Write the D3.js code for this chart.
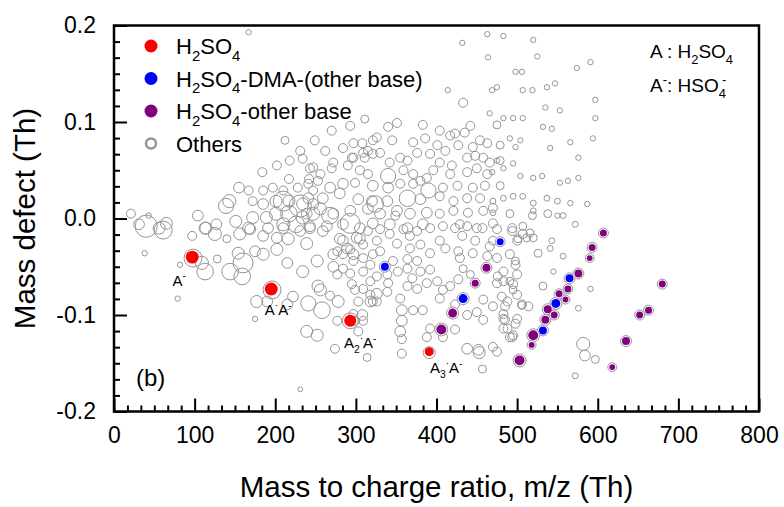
<!DOCTYPE html>
<html>
<head>
<meta charset="utf-8">
<script src="https://cdn.jsdelivr.net/npm/d3@7"></script>
<style>
  body { margin: 0; background: #fff; }
  text { font-family: Arial, "Liberation Sans", sans-serif; fill: #000; }
</style>
</head>
<body>
<svg id="chart" width="784" height="507"></svg>
<script>
// ---- data (m/z in Th, mass defect in Th, signal as relative intensity) ----
const xTicks = [0, 100, 200, 300, 400, 500, 600, 700, 800];
const yTicks = [-0.2, -0.1, 0.0, 0.1, 0.2];

// H2SO4 clusters: A- , A·A- , A2·A- , A3·A-
const h2so4Peaks = [[97, -0.040, 29], [195, -0.073, 29], [293, -0.106, 25], [391, -0.138, 14]];
const h2so4Labels = [
  [['A', ''], ['-', 'sup']],
  [['A', ''], ['·', 'sup'], ['A', ''], ['-', 'sup']],
  [['A', ''], ['2', 'sub'], ['·', 'sup'], ['A', ''], ['-', 'sup']],
  [['A', ''], ['3', 'sub'], ['·', 'sup'], ['A', ''], ['-', 'sup']]
];

// H2SO4-DMA-(other base)
const dmaPeaks = [[336, -0.050, 11], [479, -0.024, 8.5], [433, -0.083, 14], [565, -0.062, 11],
  [548, -0.088, 14], [532, -0.116, 11]];

// H2SO4-other base
const basePeaks = [[462, -0.051, 11], [448, -0.067, 8.5], [420, -0.098, 14], [406, -0.115, 17],
  [503, -0.147, 17], [607, -0.015, 8.5], [593, -0.030, 8.5], [590, -0.041, 6], [576, -0.057, 11],
  [563, -0.073, 8.5], [552, -0.078, 8.5], [560, -0.084, 6], [538, -0.094, 11], [546, -0.100, 8.5],
  [535, -0.105, 11], [520, -0.121, 17], [518, -0.131, 6], [680, -0.068, 8.5], [663, -0.095, 8.5],
  [652, -0.100, 8.5], [635, -0.127, 11], [618, -0.154, 6]];

// everything else
const othersPeaks = [
  // sparse upper right
  [483,0.189,5],[520,0.185,5],[498,0.152,5],[506,0.152,5],[525,0.168,5],[574,0.156,5],[591,0.162,5],
  [475,0.136,5],[519,0.133,5],[537,0.136,5],[547,0.140,5],[535,0.115,5],[553,0.112,5],[597,0.123,5],
  [466,0.109,5],[483,0.104,5],[495,0.104,5],[507,0.104,5],[532,0.095,5],[543,0.093,5],[597,0.104,5],
  [491,0.083,5],[504,0.081,5],[498,0.074,5],[541,0.073,5],[566,0.079,5],[594,0.083,5],[475,0.060,5],
  [495,0.057,5],[576,0.063,5],[469,0.048,5],[483,0.052,5],[504,0.044,5],[520,0.042,5],[531,0.044,5],
  [553,0.037,5],[563,0.039,5],[576,0.042,5],[470,0.018,6],[483,0.021,6],[495,0.023,6],[507,0.023,6],
  [520,0.016,6],[537,0.021,6],[550,0.018,6],[566,0.016,5],[587,0.015,5],[470,0.006,6],[520,0.008,6],
  [550,0.003,5],[432,0.182,5],[463,0.191,5],[464,0.167,5],[469,0.133,5],[507,0.133,5],[414,0.133,5],
  [167,0.193,5],
  // right of the cloud, below zero
  [491,0.005,11],[519,0.003,11],[538,0.005,11],[557,0.003,6],[572,-0.006,6],[475,-0.011,14],[494,-0.010,14],
  [507,-0.008,11],[516,-0.015,11],[501,-0.021,11],[512,-0.020,11],[520,-0.020,11],[543,-0.023,6],[470,-0.023,14],
  [475,-0.041,14],[498,-0.044,11],[526,-0.036,11],[557,-0.039,6],[541,-0.031,6],[545,-0.055,5],[476,-0.060,14],
  [475,-0.067,14],[491,-0.065,11],[495,-0.074,11],[532,-0.070,11],[591,-0.073,5],[481,-0.081,14],[506,-0.089,14],
  [514,-0.091,14],[470,-0.091,14],[483,-0.099,14],[485,-0.105,14],[576,-0.093,6],[483,-0.114,14],[495,-0.121,14],
  [470,-0.133,14],[582,-0.130,30],[584,-0.142,20],[597,-0.146,11],[572,-0.163,6],[485,-0.091,14],[506,-0.090,11],
  [458,-0.105,14],[498,-0.109,14],[491,-0.123,14],[453,-0.139,25],[457,-0.156,11],
  // middle, below zero
  [277,-0.106,14],[308,-0.100,20],[299,-0.106,14],[274,-0.135,14],[321,-0.086,14],[326,-0.078,20],[355,-0.083,14],
  [357,-0.095,20],[371,-0.095,14],[383,-0.095,14],[357,-0.106,20],[355,-0.117,20],[357,-0.125,14],[357,-0.140,14],
  [392,-0.114,14],[388,-0.123,14],[408,-0.123,14],[423,-0.115,14],[438,-0.135,20],[452,-0.136,20],[475,-0.138,14],
  [488,-0.114,14],[494,-0.123,14],[500,-0.104,14],[483,-0.104,14],[488,-0.086,14],[500,-0.079,14],[495,-0.068,14],
  [483,-0.065,14],[458,-0.084,14],[450,-0.097,14],[438,-0.100,14],[423,-0.089,14],[404,-0.083,14],[408,-0.074,14],
  [401,-0.065,14],[388,-0.067,14],[376,-0.073,14],[364,-0.070,14],[370,-0.062,14],[380,-0.055,14],[392,-0.053,14],
  [376,-0.044,14],[364,-0.042,14],[352,-0.055,14],[339,-0.058,14],[326,-0.060,14],[318,-0.065,14],[309,-0.073,14],
  [295,-0.068,14],[303,-0.086,14],[318,-0.086,20],[339,-0.076,14],[346,-0.044,14],[364,-0.052,14],[340,-0.067,14],
  [318,-0.048,14],[309,-0.055,14],[297,-0.044,14],[284,-0.052,14],[277,-0.058,14],[293,-0.057,14],[433,-0.052,11],
  [442,-0.058,11],[427,-0.063,14],[417,-0.070,14],[429,-0.041,14],[445,-0.036,14],[427,-0.034,14],[411,-0.031,14],
  [392,-0.036,14],[404,-0.023,14],[432,-0.018,14],[448,-0.023,14],[466,-0.029,14],[463,-0.039,14],[491,-0.037,14],
  [498,-0.048,14],[500,-0.058,14],[483,-0.055,14],[494,-0.013,14],[507,-0.016,14],[500,-0.023,14],[457,-0.010,14],
  [438,-0.008,14],[423,-0.010,14],[408,-0.008,14],[392,-0.010,14],[376,-0.013,14],[359,-0.011,14],[342,-0.016,14],
  [330,-0.011,14],[315,-0.013,14],[301,-0.020,20],[284,-0.023,20],[277,-0.034,14],[293,-0.032,14],[309,-0.027,14],
  [326,-0.023,14],[351,-0.026,14],[367,-0.031,14],[380,-0.027,14],[321,-0.037,14],[309,-0.041,14],[284,-0.037,14],
  [299,-0.074,14],[268,-0.080,14],[330,-0.034,14],[367,-0.018,14],
  // left, low mass
  [21,0.005,14],[40,-0.008,85],[61,-0.012,56],[38,-0.036,5],[97,-0.018,14],[113,-0.010,25],[125,-0.016,30],
  [140,-0.021,11],[156,-0.016,25],[169,-0.011,20],[98,-0.041,56],[113,-0.055,48],[109,-0.046,30],[144,-0.055,48],
  [160,-0.046,69],[159,-0.060,48],[82,-0.048,5],[128,-0.042,11],[154,-0.036,25],[79,-0.083,5],[175,-0.034,20],
  [185,-0.037,25],[202,-0.032,25],[216,-0.021,25],[202,-0.020,20],[185,-0.018,20],[191,-0.010,20],[210,-0.010,20],
  [231,-0.013,20],[239,-0.026,25],[215,-0.046,20],[234,-0.055,25],[252,-0.044,25],[253,-0.070,25],[272,-0.050,20],
  [272,-0.037,20],[289,-0.031,20],[297,-0.037,20],[305,-0.021,20],[280,-0.021,20],[259,-0.013,20],[243,-0.010,20],
  [196,-0.074,56],[177,-0.086,25],[190,-0.086,20],[222,-0.081,20],[215,-0.089,20],[241,-0.088,40],[258,-0.095,48],
  [278,-0.086,25],[256,-0.074,25],[318,-0.079,14],[326,-0.086,14],[297,-0.099,14],[309,-0.106,14],[303,-0.117,14],
  [239,-0.117,25],[252,-0.121,25],[175,-0.104,5],[314,-0.144,11],[293,-0.106,44],[391,-0.139,25],[231,-0.177,4],
  // dense cluster around zero
  [234,0.062,14],[247,0.053,14],[217,0.041,14],[197,0.032,14],[185,0.029,14],[242,0.041,14],[228,0.032,14],
  [247,0.029,14],[210,0.029,14],[155,0.032,20],[167,0.029,14],[143,0.018,30],[139,0.013,40],[172,0.018,14],
  [185,0.015,20],[201,0.018,25],[217,0.018,25],[234,0.015,25],[247,0.015,20],[104,0.003,20],[43,0.003,5],
  [65,-0.005,25],[56,-0.010,25],[31,-0.006,20],[127,-0.006,20],[151,-0.003,25],[172,0.001,25],[189,0.001,25],
  [201,0.005,30],[217,0.005,48],[234,0.001,30],[247,0.005,30],[167,-0.010,25],[210,-0.006,30],[226,-0.006,48],
  [114,-0.010,25],[210,0.018,69],[231,0.013,85],[293,-0.005,69],[324,0.015,48],[268,0.003,48],
  [184,0.048,14],[202,0.055,14],[218,0.060,14],[231,0.070,14],[249,0.081,14],[262,0.070,14],[212,0.081,11],
  [349,0.003,14],[380,0.039,14],
  // upper band of the cloud
  [433,0.120,14],[340,0.095,14],[351,0.099,14],[383,0.097,14],[404,0.091,14],[423,0.088,14],[435,0.089,14],[475,0.097,11],
  [284,0.073,14],[308,0.078,14],[321,0.081,14],[345,0.081,14],[371,0.079,14],[386,0.083,14],[401,0.076,14],[411,0.070,14],
  [427,0.076,14],[445,0.074,14],[463,0.078,14],[479,0.076,11],[272,0.058,14],[295,0.063,14],[309,0.068,14],[330,0.068,14],
  [342,0.058,14],[355,0.063,14],[364,0.060,14],[376,0.068,14],[392,0.067,14],[404,0.058,14],[419,0.055,14],[438,0.063,14],
  [448,0.065,14],[458,0.063,14],[466,0.058,14],[243,0.052,14],[256,0.046,14],[270,0.052,14],[290,0.055,14],[305,0.050,14],
  [315,0.046,14],[340,0.044,40],[359,0.050,14],[371,0.046,14],[388,0.042,14],[396,0.050,14],[417,0.046,14],[438,0.048,14],
  [450,0.052,14],[463,0.046,14],[241,0.036,14],[253,0.039,14],[268,0.032,20],[284,0.036,20],[299,0.037,14],[321,0.034,20],
  [340,0.032,20],[355,0.036,14],[371,0.036,14],[390,0.029,40],[408,0.032,14],[426,0.034,14],[445,0.032,14],[460,0.034,14],
  [241,0.021,20],[259,0.021,20],[280,0.026,20],[303,0.020,20],[320,0.018,20],[339,0.018,20],[364,0.021,48],[380,0.020,20],
  [404,0.023,14],[421,0.018,14],[438,0.021,14],[454,0.021,14],[470,0.011,14],[239,0.005,20],[256,0.010,25],[272,0.005,20],
  [293,0.008,20],[315,0.010,20],[330,0.005,20],[351,0.008,20],[367,0.005,20],[388,0.006,20],[404,0.005,14],[421,0.008,14],
  [439,0.006,14],[458,0.008,14],[243,-0.008,20],[264,-0.008,20],[284,-0.006,20],[305,-0.010,20],[321,-0.005,20],
  [342,-0.006,20],[364,-0.010,20],[383,-0.006,20],[429,-0.006,14],[450,-0.010,14],[470,-0.005,14],
  [297,0.078,14],[315,0.070,14],[326,0.084,14],[311,0.063,14],[297,0.063,14],[321,0.067,14],
  [270,0.091,14],[293,0.096,14],[311,0.103,11],[417,0.086,14],[442,0.096,14],[454,0.081,14],[479,0.060,11],[479,0.034,11]
];

const legendItems = [
  {color: '#ff0000', parts: [['H', ''], ['2', 'sub'], ['SO', ''], ['4', 'sub']]},
  {color: '#0000ff', parts: [['H', ''], ['2', 'sub'], ['SO', ''], ['4', 'sub'], ['-DMA-(other base)', '']]},
  {color: '#800080', parts: [['H', ''], ['2', 'sub'], ['SO', ''], ['4', 'sub'], ['-other base', '']]},
  {color: null, parts: [['Others', '']]}
];

// ---- layout ----
const svg = d3.select('#chart');
const plot = {left: 114, right: 759, top: 25.5, bottom: 411.5};
const grey = '#959595';

const x = d3.scaleLinear().domain([0, 800]).range([plot.left, plot.right]);
const y = d3.scaleLinear().domain([-0.2, 0.2]).range([plot.bottom, plot.top]);
const r = d3.scaleSqrt().domain([0, 100]).range([0, 12]);

// writes text with sub/superscripts into a <text> selection
function rich(t, parts, size) {
  let shift = 0;
  parts.forEach(([s, mode, dx]) => {
    const target = mode === 'sub' ? size * 0.3 : mode === 'sup' ? -size * 0.42 : 0;
    const ts = t.append('tspan')
      .attr('dy', target - shift)
      .attr('font-size', mode ? size * 0.68 : size)
      .text(s);
    if (dx) ts.attr('dx', dx);
    shift = target;
  });
}

// ---- axes ----
const minorX = d3.range(49).filter(i => i % 6 !== 0).map(i => i * 100 / 6);
const minorY = d3.range(25).filter(i => i % 6 !== 0).map(i => -0.2 + i * 0.1 / 6);

const xAxisG = svg.append('g').attr('transform', `translate(0,${plot.bottom})`);
xAxisG.append('g').call(d3.axisBottom(x).tickValues(minorX).tickSizeInner(-6).tickSizeOuter(0).tickFormat(''));
xAxisG.append('g').call(d3.axisBottom(x).tickValues(xTicks).tickSizeInner(-13).tickSizeOuter(0)
  .tickPadding(15).tickFormat(d3.format('d')));

const yAxisG = svg.append('g').attr('transform', `translate(${plot.left},0)`);
yAxisG.append('g').call(d3.axisLeft(y).tickValues(minorY).tickSizeInner(-6).tickSizeOuter(0).tickFormat(''));
yAxisG.append('g').call(d3.axisLeft(y).tickValues(yTicks).tickSizeInner(-13).tickSizeOuter(0)
  .tickPadding(18).tickFormat(d => d.toFixed(1)));

svg.selectAll('.domain').remove();
svg.selectAll('.tick line').attr('stroke', '#000').attr('stroke-width', 2);
svg.selectAll('.tick text').attr('font-size', 23).attr('fill', '#000')
  .attr('font-family', 'Arial, "Liberation Sans", sans-serif');

// axis titles
svg.append('text')
  .attr('x', (plot.left + plot.right) / 2).attr('y', 497)
  .attr('text-anchor', 'middle').attr('font-size', 29.5)
  .text('Mass to charge ratio, m/z (Th)');
svg.append('text')
  .attr('transform', `translate(35,${(plot.top + plot.bottom) / 2}) rotate(-90)`)
  .attr('text-anchor', 'middle').attr('font-size', 29.5)
  .text('Mass defect (Th)');

// ---- points ----
const pts = svg.append('g');

pts.append('g').selectAll('circle')
  .data(othersPeaks)
  .join('circle')
  .attr('cx', d => x(d[0])).attr('cy', d => y(d[1])).attr('r', d => r(d[2]))
  .attr('fill', 'none').attr('stroke', grey).attr('stroke-width', 1);

function drawSeries(data, color, ring) {
  const g = pts.append('g');
  if (ring) {
    g.selectAll('circle.ring')
      .data(data)
      .join('circle')
      .attr('class', 'ring')
      .attr('cx', d => x(d[0])).attr('cy', d => y(d[1])).attr('r', d => r(d[2]) + 1.5)
      .attr('fill', '#fff').attr('stroke', grey).attr('stroke-width', 1);
  }
  g.selectAll('circle.dot')
    .data(data)
    .join('circle')
    .attr('class', 'dot')
    .attr('cx', d => x(d[0])).attr('cy', d => y(d[1])).attr('r', d => r(d[2]))
    .attr('fill', color);
}
drawSeries(dmaPeaks, '#0000ff', true);
drawSeries(basePeaks, '#800080', true);
drawSeries(h2so4Peaks, '#ff0000', false);

// cluster labels under the H2SO4 points
const labelOffsets = [[-13, 28.5], [7, 26.5], [10, 27.5], [17, 21.5]];
h2so4Peaks.forEach((d, i) => {
  const t = svg.append('text')
    .attr('x', x(d[0]) + labelOffsets[i][0]).attr('y', y(d[1]) + labelOffsets[i][1])
    .attr('text-anchor', 'middle').attr('font-size', 15);
  rich(t, h2so4Labels[i], 15);
});

// ---- legend ----
const legend = svg.append('g').attr('transform', 'translate(151,46)');
legendItems.forEach((item, i) => {
  const row = legend.append('g').attr('transform', `translate(0,${i * 32.5})`);
  if (item.color) {
    row.append('circle').attr('r', 6.5).attr('fill', item.color);
  } else {
    row.append('circle').attr('r', 5).attr('fill', '#fff').attr('stroke', grey).attr('stroke-width', 2.5);
  }
  const t = row.append('text').attr('x', 25).attr('y', 8).attr('font-size', 22);
  rich(t, item.parts, 22);
});

// ---- notes ----
const n1 = svg.append('text').attr('x', 650).attr('y', 58).attr('font-size', 19);
rich(n1, [['A : H', ''], ['2', 'sub'], ['SO', ''], ['4', 'sub']], 19);
const n2 = svg.append('text').attr('x', 650).attr('y', 92).attr('font-size', 19);
rich(n2, [['A', ''], ['-', 'sup'], [': HSO', ''], ['4', 'sub'], ['-', 'sup', -4]], 19);

svg.append('text').attr('x', 136).attr('y', 386).attr('font-size', 24).text('(b)');

// frame
svg.append('rect')
  .attr('x', plot.left).attr('y', plot.top)
  .attr('width', plot.right - plot.left).attr('height', plot.bottom - plot.top)
  .attr('fill', 'none').attr('stroke', '#000').attr('stroke-width', 2.5);
</script>
</body>
</html>
